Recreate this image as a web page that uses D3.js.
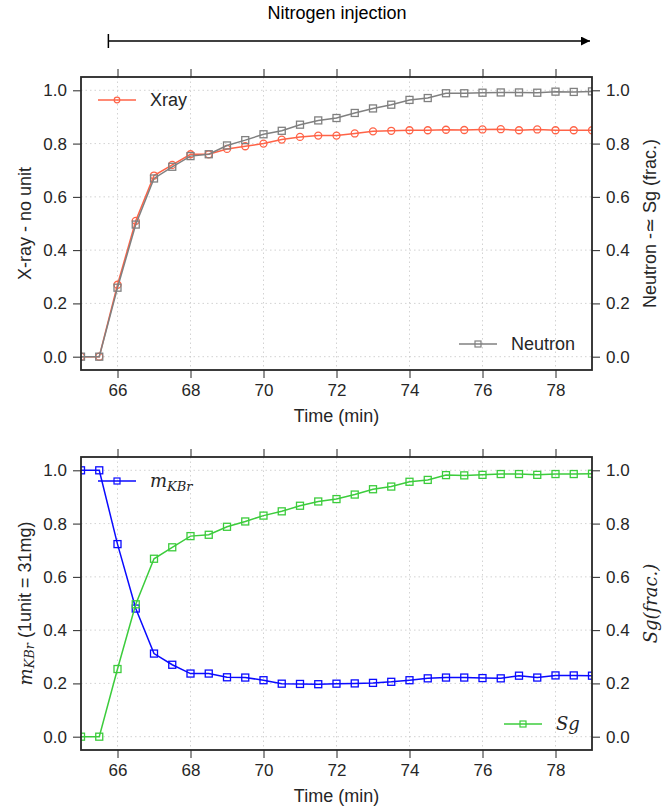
<!DOCTYPE html>
<html>
<head>
<meta charset="utf-8">
<script src="https://cdn.jsdelivr.net/npm/d3@7/dist/d3.min.js"></script>
<style>
  body { margin: 0; background: #fff; }
  svg { font-family: "Liberation Sans", Arial, sans-serif; }
  .tick text { fill: #262626; }
</style>
</head>
<body>
<svg id="chart" width="672" height="811"></svg>
<script>
// data
var times = [65, 65.5, 66, 66.5, 67, 67.5, 68, 68.5, 69, 69.5, 70, 70.5, 71, 71.5, 72,
  72.5, 73, 73.5, 74, 74.5, 75, 75.5, 76, 76.5, 77, 77.5, 78, 78.5, 79];
var xray = [0, 0, 0.27, 0.51, 0.68, 0.72, 0.76, 0.76, 0.78, 0.79, 0.80, 0.815, 0.825, 0.83, 0.83,
  0.838, 0.846, 0.848, 0.85, 0.85, 0.852, 0.851, 0.853, 0.854, 0.85, 0.853, 0.85, 0.85, 0.85];
var neutron = [0, 0, 0.259, 0.496, 0.669, 0.713, 0.753, 0.76, 0.793, 0.813, 0.835, 0.848, 0.871, 0.887, 0.896,
  0.915, 0.932, 0.946, 0.964, 0.971, 0.989, 0.989, 0.991, 0.992, 0.992, 0.991, 0.995, 0.994, 0.996];
var mkbr = [1.0, 1.0, 0.723, 0.481, 0.312, 0.27, 0.237, 0.237, 0.223, 0.222, 0.212, 0.199, 0.198, 0.197, 0.199,
  0.2, 0.202, 0.206, 0.212, 0.219, 0.222, 0.222, 0.22, 0.219, 0.229, 0.222, 0.23, 0.23, 0.229];
var sg = [0, 0, 0.254, 0.497, 0.668, 0.711, 0.753, 0.758, 0.788, 0.808, 0.83, 0.846, 0.867, 0.883, 0.892,
  0.909, 0.929, 0.939, 0.957, 0.964, 0.982, 0.981, 0.983, 0.986, 0.986, 0.983, 0.986, 0.986, 0.987];

var xTicks = [66, 68, 70, 72, 74, 76, 78];
var yTicks = [0, 0.2, 0.4, 0.6, 0.8, 1.0];
var injection = [65.75, 79];   // start / end of the nitrogen injection arrow

var svg = d3.select('#chart');
var margin = { left: 81, right: 80 };
var plotW = 672 - margin.left - margin.right;
var plotH = 293;

var x = d3.scaleLinear().domain([65, 79]).range([margin.left, margin.left + plotW]);

function drawPanel(top, id, series, leftLabel, rightLabel) {
  var y = d3.scaleLinear().domain([-0.05, 1.05]).range([top + plotH, top]);
  var g = svg.append('g');

  g.append('clipPath').attr('id', 'clip' + id)
    .append('rect')
    .attr('x', x(65)).attr('y', top)
    .attr('width', plotW).attr('height', plotH);

  // grid
  g.selectAll('.vgrid').data(xTicks).enter().append('line')
    .attr('x1', d => x(d)).attr('x2', d => x(d))
    .attr('y1', top).attr('y2', top + plotH)
    .style('stroke', '#c8c8c8').style('stroke-width', 0.8).style('stroke-dasharray', '1.5,3');
  g.selectAll('.hgrid').data(yTicks).enter().append('line')
    .attr('x1', x(65)).attr('x2', x(79))
    .attr('y1', d => y(d)).attr('y2', d => y(d))
    .style('stroke', '#c8c8c8').style('stroke-width', 0.8).style('stroke-dasharray', '1.5,3');

  // axes
  var fmt = d3.format('.1f');
  var axes = [
    g.append('g').attr('transform', `translate(0,${top + plotH})`)
      .call(d3.axisBottom(x).tickValues(xTicks).tickSize(8).tickPadding(6)),
    g.append('g').attr('transform', `translate(0,${top})`)
      .call(d3.axisTop(x).tickValues(xTicks).tickSize(8).tickFormat('')),
    g.append('g').attr('transform', `translate(${x(65)},0)`)
      .call(d3.axisLeft(y).tickValues(yTicks).tickSize(8).tickPadding(6).tickFormat(fmt)),
    g.append('g').attr('transform', `translate(${x(79)},0)`)
      .call(d3.axisRight(y).tickValues(yTicks).tickSize(8).tickPadding(6).tickFormat(fmt))
  ];
  axes.forEach(a => {
    a.select('.domain').remove();
    a.selectAll('.tick line').style('stroke', '#262626').style('stroke-width', 1);
    a.selectAll('.tick text').style('font-size', '17px').style('font-family', '"Liberation Sans", Arial, sans-serif');
  });

  // series
  var data = g.append('g').attr('clip-path', `url(#clip${id})`);
  series.forEach(s => {
    var pts = times.map((t, i) => [t, s.values[i]]);
    var line = d3.line().x(d => x(d[0])).y(d => y(d[1]));
    data.append('path').datum(pts)
      .attr('d', line)
      .style('fill', 'none').style('stroke', s.color).style('stroke-width', 1.5);
    if (s.marker == 'circle') {
      data.selectAll(null).data(pts).enter().append('circle')
        .attr('cx', d => x(d[0])).attr('cy', d => y(d[1])).attr('r', 3.5)
        .style('fill', 'none').style('stroke', s.color).style('stroke-width', 1.3);
    } else {
      data.selectAll(null).data(pts).enter().append('rect')
        .attr('x', d => x(d[0]) - 3.5).attr('y', d => y(d[1]) - 3.5)
        .attr('width', 7).attr('height', 7)
        .style('fill', 'none').style('stroke', s.color).style('stroke-width', 1.3);
    }
  });

  // legends
  series.forEach(s => {
    var lx = s.legend.x, ly = s.legend.y;
    g.append('line').attr('x1', lx).attr('x2', lx + 38).attr('y1', ly).attr('y2', ly)
      .style('stroke', s.color).style('stroke-width', 1.5);
    if (s.marker == 'circle') {
      g.append('circle').attr('cx', lx + 19).attr('cy', ly).attr('r', 2.8)
        .style('fill', 'none').style('stroke', s.color).style('stroke-width', 1.2);
    } else {
      g.append('rect').attr('x', lx + 16).attr('y', ly - 3).attr('width', 6).attr('height', 6)
        .style('fill', 'none').style('stroke', s.color).style('stroke-width', 1.2);
    }
    var t = g.append('text').attr('x', lx + 52).attr('y', ly + 6)
      .style('font-size', '18px').style('fill', '#262626');
    s.label(t);
  });

  // frame
  g.append('rect')
    .attr('x', x(65)).attr('y', top).attr('width', plotW).attr('height', plotH)
    .style('fill', 'none').style('stroke', '#262626').style('stroke-width', 1.8);

  // axis titles
  g.append('text')
    .attr('x', x(72)).attr('y', top + plotH + 52)
    .attr('text-anchor', 'middle')
    .style('font-size', '18px').style('fill', '#262626')
    .text('Time (min)');
  var lt = g.append('text')
    .attr('transform', `translate(25,${top + plotH / 2}) rotate(-90)`)
    .attr('text-anchor', 'middle').attr('dominant-baseline', 'central')
    .style('font-size', '18px').style('fill', '#262626');
  leftLabel(lt);
  var rt = g.append('text')
    .attr('transform', `translate(650,${top + plotH / 2}) rotate(-90)`)
    .attr('text-anchor', 'middle').attr('dominant-baseline', 'central')
    .style('font-size', '18px').style('fill', '#262626');
  rightLabel(rt);
}

function mathM(t) {
  t.append('tspan').style('font-family', '"DejaVu Serif", serif').style('font-style', 'italic').text('m');
  t.append('tspan').style('font-family', '"DejaVu Serif", serif').style('font-style', 'italic')
    .style('font-size', '13px').attr('dy', 4).text('KBr');
}

// top panel
drawPanel(77, 'a', [
  { values: xray, color: '#ff6347', marker: 'circle', legend: { x: 98, y: 100 }, label: t => t.text('Xray') },
  { values: neutron, color: '#808080', marker: 'square', legend: { x: 459, y: 344 }, label: t => t.text('Neutron') }
], t => t.text('X-ray - no unit'), t => t.text('Neutron -\u2243 Sg (frac.)'));

// bottom panel
drawPanel(457, 'b', [
  { values: mkbr, color: '#0a0aff', marker: 'square', legend: { x: 98, y: 481 }, label: mathM },
  { values: sg, color: '#3ccc3c', marker: 'square', legend: { x: 504, y: 724 },
    label: t => t.style('font-family', '"DejaVu Serif", serif').style('font-style', 'italic').text('Sg') }
], t => {
  mathM(t);
  t.append('tspan').attr('dy', -4).text(' (1unit = 31mg)');
}, t => t.style('font-family', '"DejaVu Serif", serif').style('font-style', 'italic').text('Sg(frac.)'));

// nitrogen injection arrow
svg.append('defs').append('marker')
  .attr('id', 'head').attr('viewBox', '0 0 10 10')
  .attr('refX', 10).attr('refY', 5)
  .attr('markerWidth', 15).attr('markerHeight', 9)
  .attr('markerUnits', 'userSpaceOnUse')
  .attr('orient', 'auto')
  .append('path').attr('d', 'M0,0 L10,5 L0,10 Z').style('fill', '#000');
svg.append('line')
  .attr('x1', x(injection[0])).attr('x2', x(injection[1]) - 2)
  .attr('y1', 41).attr('y2', 41)
  .style('stroke', '#000').style('stroke-width', 1.5)
  .attr('marker-end', 'url(#head)');
svg.append('line')
  .attr('x1', x(injection[0])).attr('x2', x(injection[0]))
  .attr('y1', 34).attr('y2', 48)
  .style('stroke', '#000').style('stroke-width', 1.5);
svg.append('text')
  .attr('x', 337).attr('y', 19)
  .attr('text-anchor', 'middle')
  .style('font-size', '18px').style('fill', '#000')
  .text('Nitrogen injection');
</script>
</body>
</html>
